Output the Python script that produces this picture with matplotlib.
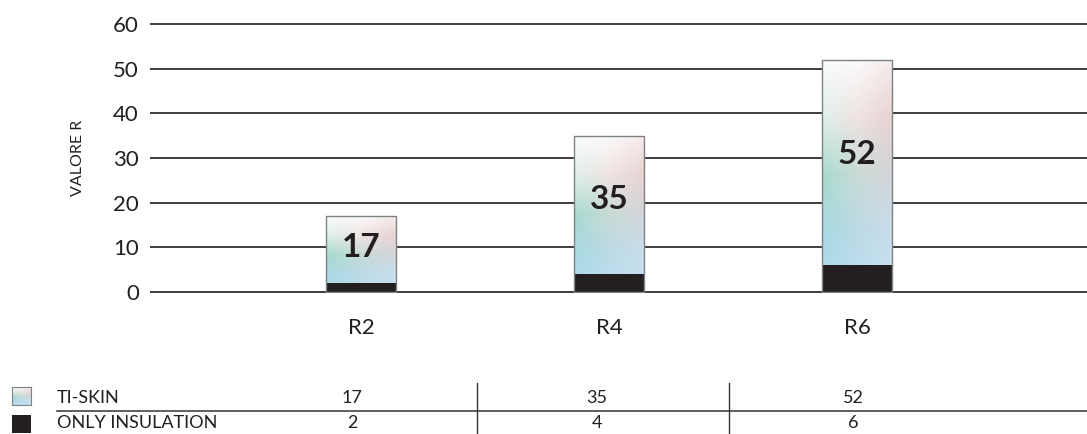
import numpy as np
import matplotlib
matplotlib.use("Agg")
import matplotlib.pyplot as plt
from matplotlib.colors import to_rgb
from matplotlib.lines import Line2D

# ---- data ----
categories = ["R2", "R4", "R6"]
ti_skin = [17, 35, 52]
only_insulation = [2, 4, 6]
y_ticks = [0, 10, 20, 30, 40, 50, 60]
row_labels = ["TI-SKIN", "ONLY INSULATION"]
y_label = "VALORE R"

plt.rcParams['font.family'] = ['Lato', 'DejaVu Sans']
TXT = '#231f20'
W, H = 1087, 434

fig = plt.figure(figsize=(W / 100, H / 100), dpi=100)

# axes placement in pixels
ax_left, ax_right = 150, 1087
px_per_unit = 268 / 60
y0_px = 292
ylim = (-0.3, 60.3)
ax_bottom = y0_px + 0.3 * px_per_unit
ax_top = y0_px - 60.3 * px_per_unit
ax = fig.add_axes([ax_left / W, 1 - ax_bottom / H, (ax_right - ax_left) / W, (ax_bottom - ax_top) / H])

# gradient colours (rows top->bottom, cols left->right)
grad_hex = [
    ['#fafcfb', '#fcfafa', '#f6ecec'],
    ['#e0f0ea', '#eee3e2', '#e8d3d3'],
    ['#a9dacf', '#c8dbd6', '#d4d5d9'],
    ['#a8d9e2', '#bbdae7', '#c8deec'],
    ['#b1dbeb', '#bedff0', '#c5e1f3'],
]


def gradient_image(nr=120, nc=40):
    g = np.array([[to_rgb(c) for c in row] for row in grad_hex])
    r_src = np.linspace(0, 1, g.shape[0])
    c_src = np.linspace(0, 1, g.shape[1])
    r_dst = np.linspace(0, 1, nr)
    c_dst = np.linspace(0, 1, nc)
    tmp = np.zeros((nr, g.shape[1], 3))
    for j in range(g.shape[1]):
        for k in range(3):
            tmp[:, j, k] = np.interp(r_dst, r_src, g[:, j, k])
    out = np.zeros((nr, nc, 3))
    for i in range(nr):
        for k in range(3):
            out[i, :, k] = np.interp(c_dst, c_src, tmp[i, :, k])
    return out


grad = gradient_image()

x = np.arange(len(categories))
bw = 0.28

# grid lines
for t in y_ticks:
    ax.axhline(t, color='#2e2e2e', lw=1.3, zorder=0.5)

# gradient bars
bars = ax.bar(x, ti_skin, width=bw, facecolor='none', edgecolor='#7d8384', lw=1.0, zorder=4)
for b in bars:
    bx, by = b.get_x(), b.get_y()
    im = ax.imshow(grad, extent=[bx, bx + b.get_width(), by, by + b.get_height()],
                   aspect='auto', interpolation='bicubic', zorder=2, origin='upper')
    im.set_clip_path(b)
# black bars
ax.bar(x, only_insulation, width=bw, color='#231f20', zorder=3)

for xi, v in zip(x, ti_skin):
    ax.text(xi, v * 0.59, str(v), ha='center', va='center', fontsize=24,
            fontweight='bold', color=TXT, zorder=5)

ax.set_xlim(-0.851, 2.927)
ax.set_ylim(*ylim)
ax.set_yticks(y_ticks)
ax.set_yticklabels([str(t) for t in y_ticks])
ax.set_xticks(x)
ax.set_xticklabels(categories)
ax.tick_params(axis='y', length=0, pad=8, labelsize=16, labelcolor=TXT)
ax.tick_params(axis='x', length=0, pad=18, labelsize=16, labelcolor=TXT)
for s in ax.spines.values():
    s.set_visible(False)
ax.set_facecolor('none')

fig.text(78 / W, 1 - 158 / H, y_label, rotation=90, ha='center', va='center',
         fontsize=11.5, color=TXT)

# ---- table ----
col_centers = [352, 597, 853]
row_y = [398, 423]
seps = [477, 729]

def fx(px):
    return px / W

def fy(py):
    return 1 - py / H

for lbl, yy in zip(row_labels, row_y):
    fig.text(fx(57), fy(yy), lbl, ha='left', va='center', fontsize=13, color=TXT)
for vals, yy in zip([ti_skin, only_insulation], row_y):
    for cx, v in zip(col_centers, vals):
        fig.text(fx(cx), fy(yy), str(v), ha='center', va='center', fontsize=13, color=TXT)

fig.add_artist(Line2D([fx(57), fx(1087)], [fy(411), fy(411)], color='#444444', lw=1.2))
for sx in seps:
    fig.add_artist(Line2D([fx(sx), fx(sx)], [fy(383), fy(434)], color='#333333', lw=1.0))

# legend swatches
sw1 = fig.add_axes([fx(12), fy(405), 19 / W, 18 / H])
sw1.imshow(grad, aspect='auto', interpolation='bicubic')
sw1.set_xticks([]); sw1.set_yticks([])
for s in sw1.spines.values():
    s.set_color('#7d8384'); s.set_linewidth(0.8)
sw2 = fig.add_axes([fx(12), fy(433), 19 / W, 18 / H])
sw2.set_facecolor('#231f20')
sw2.set_xticks([]); sw2.set_yticks([])
for s in sw2.spines.values():
    s.set_visible(False)

fig.savefig('out.png', dpi=100)
